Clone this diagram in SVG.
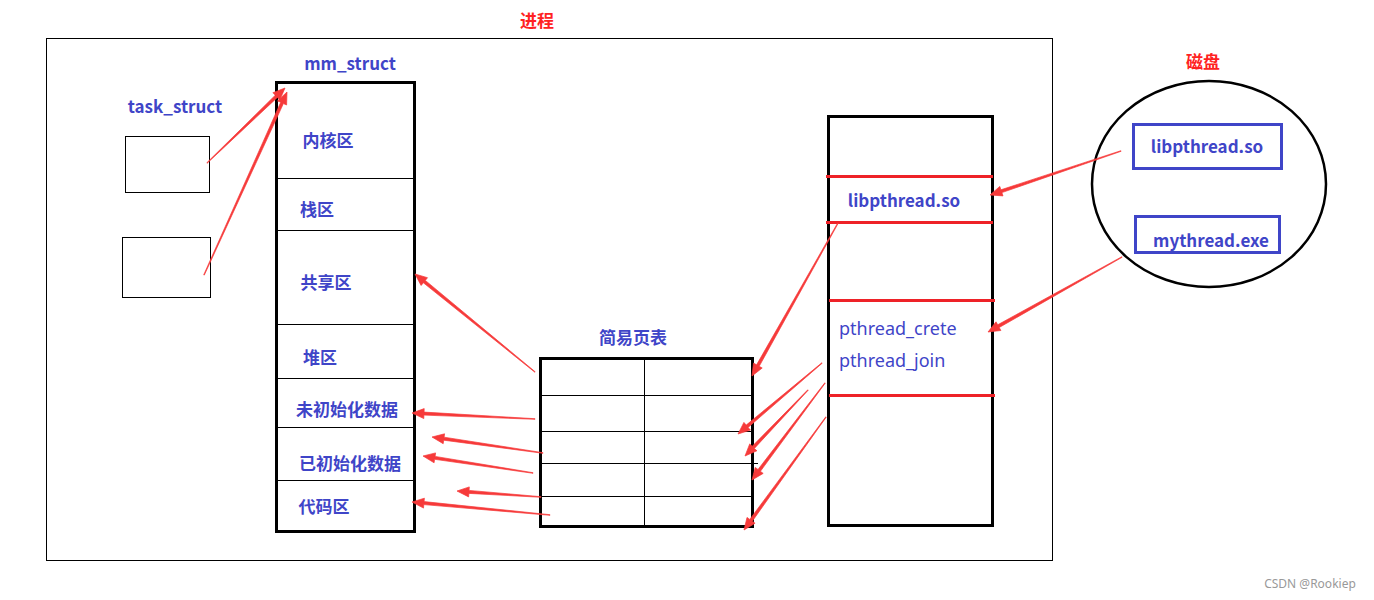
<svg xmlns="http://www.w3.org/2000/svg" width="1374" height="600" viewBox="0 0 1374 600">
<style>
.t{font-family:"Noto Sans CJK SC","Noto Sans",sans-serif;font-weight:bold;font-size:17px;fill:#3f45c8;text-anchor:middle;dominant-baseline:central}
.n{font-family:"Noto Sans","Noto Sans CJK SC",sans-serif;font-size:18px;fill:#3f45c8;dominant-baseline:central}
.r{font-family:"Noto Sans CJK SC",sans-serif;font-weight:bold;font-size:17px;fill:#ff2222;text-anchor:middle;dominant-baseline:central}
.thin{fill:none;stroke:#000;stroke-width:1}
.thick{fill:none;stroke:#000;stroke-width:3}
.rl{stroke:#ee2228;stroke-width:3}
.arr{fill:#f63a3a;stroke:#f63a3a;stroke-width:0.7;stroke-linejoin:round}
</style>
<rect width="1374" height="600" fill="#fff"/>
<g id="process-frame">
<rect x="46.5" y="38.5" width="1006" height="522" class="thin"/>
<text x="537" y="19.5" class="r">进程</text>
</g>
<g id="task_struct">
<text x="175" y="105.5" class="t">task_struct</text>
<rect x="125.5" y="136.5" width="84" height="56" class="thin"/>
<rect x="122.5" y="237.5" width="88" height="60" class="thin"/>
</g>
<g id="mm_struct">
<text x="350" y="62.5" class="t">mm_struct</text>
<rect x="276.5" y="82.5" width="138" height="449" class="thick"/>
<g stroke="#000" stroke-width="1">
<line x1="276" y1="178.5" x2="415" y2="178.5"/>
<line x1="276" y1="230.5" x2="415" y2="230.5"/>
<line x1="276" y1="324.5" x2="415" y2="324.5"/>
<line x1="276" y1="378.5" x2="415" y2="378.5"/>
<line x1="276" y1="427.5" x2="415" y2="427.5"/>
<line x1="276" y1="480.5" x2="415" y2="480.5"/>
</g>
<text x="328" y="139.5" class="t">内核区</text>
<text x="317" y="208.5" class="t">栈区</text>
<text x="326" y="281.5" class="t">共享区</text>
<text x="320" y="356.5" class="t">堆区</text>
<text x="347" y="408.5" class="t">未初始化数据</text>
<text x="350" y="462.5" class="t">已初始化数据</text>
<text x="324" y="505.5" class="t">代码区</text>
</g>
<g id="page-table">
<text x="633" y="336.5" class="t">简易页表</text>
<rect x="540.5" y="358.5" width="212" height="168" class="thick"/>
<g stroke="#000" stroke-width="1">
<line x1="644.5" y1="358" x2="644.5" y2="527"/>
<line x1="540" y1="395.5" x2="753" y2="395.5"/>
<line x1="540" y1="431.5" x2="753" y2="431.5"/>
<line x1="540" y1="463.5" x2="758" y2="463.5"/>
<line x1="540" y1="496.5" x2="753" y2="496.5"/>
</g>
</g>
<g id="thread-space">
<rect x="828.5" y="116.5" width="164" height="409" class="thick"/>
<g class="rl">
<line x1="826" y1="176.5" x2="993" y2="176.5"/>
<line x1="826" y1="222.5" x2="993" y2="222.5"/>
<line x1="829" y1="300.5" x2="995" y2="300.5"/>
<line x1="829" y1="395.5" x2="995" y2="395.5"/>
</g>
<text x="904" y="199.5" class="t">libpthread.so</text>
<text x="839" y="327.5" class="n">pthread_crete</text>
<text x="839" y="359.5" class="n">pthread_join</text>
</g>
<g id="disk">
<text x="1203" y="60.5" class="r">磁盘</text>
<ellipse cx="1209" cy="184" rx="117" ry="103" fill="none" stroke="#000" stroke-width="2.5"/>
<rect x="1133.5" y="124.5" width="148" height="44" fill="none" stroke="#3f45c8" stroke-width="3"/>
<text x="1207" y="145.5" class="t">libpthread.so</text>
<rect x="1135.5" y="216.5" width="144" height="36" fill="none" stroke="#3f45c8" stroke-width="3"/>
<text x="1211" y="239.5" class="t">mythread.exe</text>
</g>
<g id="connectors" class="arr">
<polygon points="207.2,163.2 277.4,97.4 279.8,99.9 285,88 272.9,92.7 275.3,95.2 206.8,162.8"/>
<polygon points="204.3,275.1 283.4,103.6 286.6,105.0 287,92 277.5,100.9 280.7,102.3 203.7,274.9"/>
<polygon points="535.2,371.8 425.3,280.4 427.5,277.7 415,274 421.1,285.5 423.4,282.8 534.8,372.2"/>
<polygon points="535,418.7 424.1,412.1 424.2,408.6 412,413 423.8,418.6 423.9,415.1 535,419.3"/>
<polygon points="543,452.7 444.1,437.2 444.6,433.8 432,437 443.2,443.7 443.7,440.2 543,453.3"/>
<polygon points="533,472.7 435.1,456.4 435.6,452.9 423,456 434.1,462.8 434.6,459.3 533,473.3"/>
<polygon points="541,496.7 469.1,490.4 469.3,486.9 457,491 468.6,496.9 468.9,493.4 541,497.3"/>
<polygon points="550,514.7 424.1,501.6 424.4,498.2 412,502 423.5,508.1 423.8,504.6 550,515.3"/>
<polygon points="838.3,223.1 759.2,366.3 762.2,368.0 752,376 753.5,363.1 756.6,364.8 837.7,222.9"/>
<polygon points="822.2,363.2 748.1,427.4 750.4,430.1 738,434 743.9,422.4 746.2,425.1 821.8,362.8"/>
<polygon points="808.2,390.2 754.4,448.4 756.9,450.8 745,456 749.7,443.9 752.2,446.3 807.8,389.8"/>
<polygon points="825.2,383.2 760.4,471.3 763.2,473.4 752,480 755.2,467.4 758,469.5 824.8,382.8"/>
<polygon points="826.2,417.2 752.3,521.2 755.1,523.2 744,530 747,517.4 749.8,519.4 825.8,416.8"/>
<polygon points="1121.1,151.3 1001.9,192.6 1003,195.9 990,195 999.8,186.4 1000.9,189.8 1120.9,150.7"/>
<polygon points="1122.1,257.3 999.2,327.5 1000.9,330.5 988,332 996,321.8 997.7,324.8 1121.9,256.7"/>
</g>
<text x="1310" y="583" font-family="Noto Sans, sans-serif" font-size="12" fill="#999" text-anchor="middle" dominant-baseline="central">CSDN @Rookiep</text>
</svg>
